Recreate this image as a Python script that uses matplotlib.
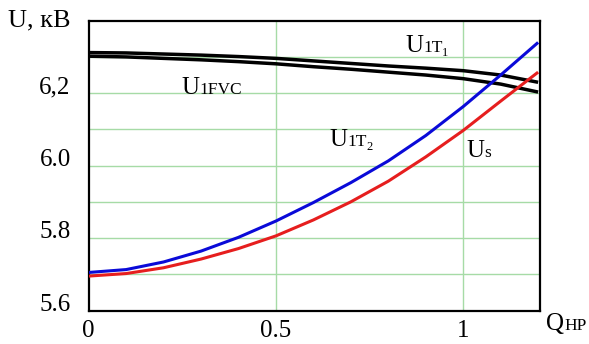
import matplotlib
matplotlib.use("Agg")
import matplotlib.pyplot as plt
import numpy as np

plt.rcParams['font.family'] = ['Liberation Serif', 'DejaVu Serif']

# ---- data ----
q = [0.0, 0.1, 0.2, 0.3, 0.4, 0.5, 0.6, 0.7, 0.8, 0.9, 1.0, 1.1, 1.2]
u_1t1 = [6.312, 6.311, 6.308, 6.305, 6.301, 6.296, 6.289, 6.282, 6.275, 6.269, 6.262, 6.250, 6.230]
u_1fvc = [6.302, 6.300, 6.296, 6.292, 6.287, 6.281, 6.273, 6.266, 6.258, 6.250, 6.240, 6.225, 6.203]
u_1t2 = [5.705, 5.713, 5.734, 5.764, 5.802, 5.847, 5.898, 5.953, 6.013, 6.083, 6.163, 6.250, 6.340]
u_s = [5.695, 5.702, 5.718, 5.742, 5.771, 5.806, 5.850, 5.900, 5.957, 6.024, 6.097, 6.178, 6.258]

ytick_vals = [5.6, 5.8, 6.0, 6.2]
ytick_labels = ['5.6', '5.8', '6.0', '6,2']
xtick_vals = [0, 0.5, 1]
xtick_labels = ['0', '0.5', '1']

W, H = 589, 344
fig = plt.figure(figsize=(W / 100, H / 100), dpi=100)
ax = fig.add_axes([88.7 / W, 1 - 310.5 / H, (540 - 88.7) / W, (310.5 - 20.7) / H])

ax.set_xlim(0, 1.205)
ax.set_ylim(5.6, 6.4)

# grid
for yv in np.arange(5.7, 6.35, 0.1):
    ax.axhline(yv, color='#a6dba6', lw=1.0, zorder=1)
for xv in [0.5, 1.0]:
    ax.axvline(xv, color='#a6dba6', lw=1.0, zorder=1)

kw = dict(solid_joinstyle='round', solid_capstyle='butt')
ax.plot(q, u_1t1, color='black', lw=2.5, zorder=3, **kw)
ax.plot(q, u_1fvc, color='black', lw=2.5, zorder=3, **kw)
ax.plot(q, u_1t2, color='#0a0ad8', lw=2.2, zorder=4, **kw)
ax.plot(q, u_s, color='#e61e1e', lw=2.2, zorder=4, **kw)

for s in ax.spines.values():
    s.set_linewidth(1.6)
    s.set_color('black')

ax.set_yticks(ytick_vals)
ax.set_yticklabels(ytick_labels, fontsize=18, va='baseline')
ax.set_xticks(xtick_vals)
ax.set_xticklabels(xtick_labels, fontsize=18)
ax.tick_params(axis='both', length=0)
ax.tick_params(axis='y', pad=13)
ax.tick_params(axis='x', pad=7)

fig.canvas.draw()
renderer = fig.canvas.get_renderer()


def ftext(px, py, s, size, **kw):
    return fig.text(px / W, 1 - py / H, s, fontsize=size, va='baseline', ha='left', **kw)


def label(px, py, main, subs, size=18):
    """subs: list of (text, size, drop_px)"""
    t = ftext(px, py, main, size)
    ext = t.get_window_extent(renderer)
    x = ext.x1
    for s, sz, drop in subs:
        tt = ftext(x, py + drop, s, sz)
        e = tt.get_window_extent(renderer)
        x = e.x1


label(8, 26.5, 'U, кВ', [], size=19)
label(181.7, 94.3, 'U', [('1FVC', 12.5, 0)])
label(405, 51.7, 'U', [('1T', 12.5, 0), ('1', 9, 4.5)])
label(329.3, 145.5, 'U', [('1T', 12.5, 0), ('2', 9, 4.5)])
label(466.7, 157.3, 'U', [('s', 12.5, 0)])
label(546, 330.5, 'Q', [('HP', 12.5, 0)])

fig.savefig('out.png', dpi=100)
